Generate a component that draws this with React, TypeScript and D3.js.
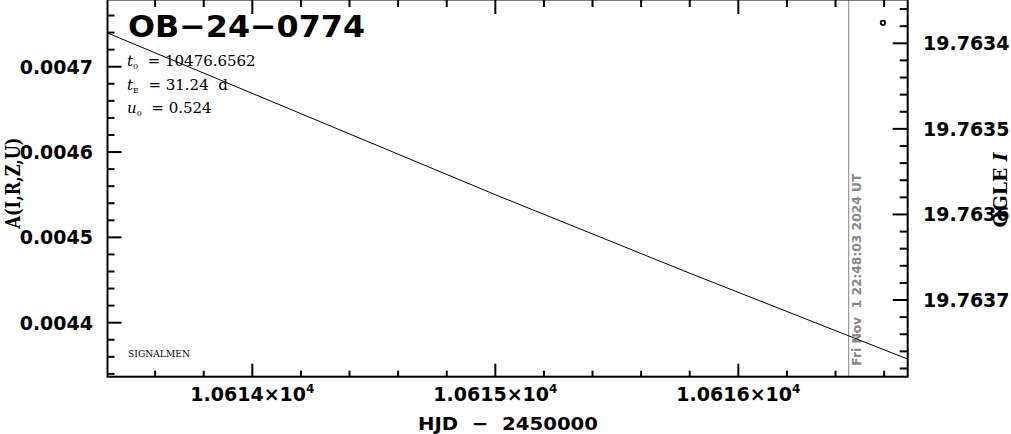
import React from 'react';
import * as d3 from 'd3';

const hjd = [10613.4, 10614.2, 10615.0, 10615.8, 10616.7];
const magnification = [0.00474, 0.004645, 0.00455, 0.004458, 0.004357];
const obsHjd = [10616.595];
const obsMag = [19.763376];
const xTicks = [10614, 10615, 10616];
const xTickLabels = ['1.0614', '1.0615', '1.0616'];
const leftTicks = [0.0044, 0.0045, 0.0046, 0.0047];
const leftTickLabels = ['0.0044', '0.0045', '0.0046', '0.0047'];
const rightTicks = [19.7634, 19.7635, 19.7636, 19.7637];
const rightTickLabels = ['19.7634', '19.7635', '19.7636', '19.7637'];
const nowHjd = 10616.454;
const nowLabel = 'Fri Nov  1 22:48:03 2024 UT';
const title = 'OB\u221224\u22120774';
const paramSyms = ['t', 't', 'u'];
const paramSubs = ['0', 'E', '0'];
const paramVals = ['= 10476.6562', '= 31.24  d', '= 0.524'];

const W = 1011, H = 434;
const L = 107.5, R = 907.7, T = -0.5, B = 376.7;

export default function App() {
  const x = d3.scaleLinear().domain([10613.404, 10616.697]).range([L, R]);
  const yL = d3.scaleLinear().domain([0.0043367, 0.0047782]).range([B, 0]);
  const yR = d3.scaleLinear().domain([19.7633494, 19.7637896]).range([0, B]);

  const xd = x.domain();
  const xMinor = d3.range(Math.ceil(xd[0] * 5), Math.floor(xd[1] * 5) + 1).map(v => v / 5);
  const isXMajor = (v: number) => Math.abs(v - Math.round(v)) < 1e-6;
  const yd = yL.domain();
  const yMinor = d3.range(Math.ceil(yd[0] / 2e-5 - 1e-9), Math.floor(yd[1] / 2e-5 + 1e-9) + 1).map(v => v * 2e-5);
  const isYMajor = (v: number) => Math.abs(v / 1e-4 - Math.round(v / 1e-4)) < 1e-4;
  const rd = yR.domain();
  const rMinor = d3.range(Math.ceil(rd[0] / 2e-5 - 1e-9), Math.floor(rd[1] / 2e-5 + 1e-9) + 1).map(v => v * 2e-5);

  const line = d3.line<number>().x((_, i) => x(hjd[i])).y(d => yL(d));
  const font = "'DejaVu Sans', sans-serif";
  const serif = "'DejaVu Serif', serif";

  return (
    <svg width={W} height={H} style={{ position: 'absolute', left: 0, top: 0, background: '#fff' }}>
      <defs>
        <clipPath id="plot"><rect x={L} y={0} width={R - L} height={B} /></clipPath>
      </defs>
      <rect x={0} y={0} width={W} height={H} fill="#fff" />
      {/* now line */}
      <line x1={x(nowHjd)} x2={x(nowHjd)} y1={0} y2={B} stroke="#999" strokeWidth={1.2} />
      <text transform={`translate(${x(nowHjd) + 12},${B - 11}) rotate(-90)`} fontFamily={font} fontWeight="bold"
        fontSize={13} fill="#888" textLength={192} lengthAdjust="spacingAndGlyphs" xmlSpace="preserve">{nowLabel}</text>
      {/* model line */}
      <path d={line(magnification) || ''} fill="none" stroke="#000" strokeWidth={1} clipPath="url(#plot)" />
      {/* data points */}
      {obsHjd.map((h, i) => (
        <circle key={i} cx={x(h)} cy={yR(obsMag[i])} r={2.2} fill="none" stroke="#000" strokeWidth={1.8} />
      ))}
      {/* frame */}
      <rect x={L} y={T} width={R - L} height={B - T} fill="none" stroke="#000" strokeWidth={2} />
      {/* x ticks */}
      {xMinor.map((v, i) => {
        const len = isXMajor(v) ? 13 : 6;
        const lenT = isXMajor(v) ? 14 : 7;
        return (
          <g key={i}>
            <line x1={x(v)} x2={x(v)} y1={B} y2={B - len} stroke="#000" strokeWidth={2} />
            <line x1={x(v)} x2={x(v)} y1={0} y2={lenT} stroke="#000" strokeWidth={2} />
          </g>
        );
      })}
      {yMinor.map((v, i) => (
        <line key={i} x1={L} x2={L + (isYMajor(v) ? 14 : 7)} y1={yL(v)} y2={yL(v)} stroke="#000" strokeWidth={2} />
      ))}
      {rMinor.map((v, i) => (
        <line key={i} x1={R} x2={R - (isYMajor(v) ? 15 : 8)} y1={yR(v)} y2={yR(v)} stroke="#000" strokeWidth={2} />
      ))}
      {/* tick labels */}
      {xTicks.map((v, i) => (
        <text key={i} x={x(v)} y={401} textAnchor="middle" fontFamily={font} fontSize={19} fontWeight="bold">
          {xTickLabels[i]}{'\u00d7'}10<tspan fontSize={12} dy={-8}>4</tspan>
        </text>
      ))}
      {leftTicks.map((v, i) => (
        <text key={i} x={93} y={yL(v) + 7} textAnchor="end" fontFamily={font} fontSize={19} fontWeight="bold">{leftTickLabels[i]}</text>
      ))}
      {rightTicks.map((v, i) => (
        <text key={i} x={923} y={yR(v) + 7} textAnchor="start" fontFamily={font} fontSize={19} fontWeight="bold">{rightTickLabels[i]}</text>
      ))}
      {/* axis titles */}
      <text x={508} y={430} textAnchor="middle" fontFamily={font} fontSize={18} fontWeight="bold" xmlSpace="preserve"
        textLength={180} lengthAdjust="spacingAndGlyphs">HJD  {'\u2212'}  2450000</text>
      <text transform={`translate(20,183) rotate(-90)`} textAnchor="middle" fontFamily={serif} fontSize={21} fontWeight="bold"
        textLength={91} lengthAdjust="spacingAndGlyphs">A(I,R,Z,U)</text>
      <text transform={`translate(1007,190) rotate(-90)`} textAnchor="middle" fontFamily={serif} fontSize={18} fontWeight="bold"
        textLength={75} lengthAdjust="spacingAndGlyphs" xmlSpace="preserve">OGLE <tspan fontStyle="italic">I</tspan></text>
      {/* title */}
      <text x={128} y={37} fontFamily={font} fontSize={31} fontWeight="bold" textLength={237} lengthAdjust="spacingAndGlyphs">{title}</text>
      {paramVals.map((v, i) => (
        <text key={i} x={127} y={66 + i * 23.5} fontFamily={serif} fontSize={15} xmlSpace="preserve">
          <tspan fontStyle="italic">{paramSyms[i]}</tspan>
          <tspan fontSize={8} dy={3}>{paramSubs[i]}</tspan>
          <tspan dy={-3}>{'  ' + v}</tspan>
        </text>
      ))}
      <text x={128} y={357} fontFamily={serif} fontSize={9} textLength={62} lengthAdjust="spacingAndGlyphs">SIGNALMEN</text>
    </svg>
  );
}
